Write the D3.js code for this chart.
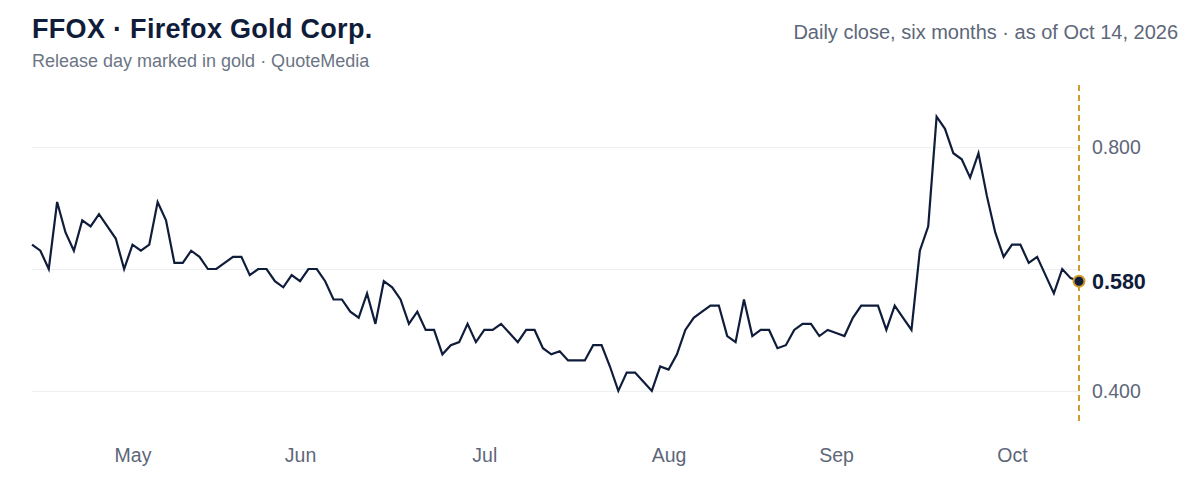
<!DOCTYPE html>
<html>
<head>
<meta charset="utf-8">
<script src="https://cdn.jsdelivr.net/npm/d3@7"></script>
<style>
  body { margin: 0; background: #fff; }
  svg { font-family: "Liberation Sans", Arial, Helvetica, sans-serif; }
</style>
</head>
<body>
<div id="chart"></div>
<script>
// trading window (TSX-V calendar) and daily closes
var firstDay = "2026-04-15"
var lastDay = "2026-10-14"
var holidays = ["2026-05-18", "2026-07-01", "2026-08-03", "2026-09-07", "2026-10-12"]

var closes = [
  0.64, 0.63, 0.60, 0.71, 0.66, 0.63, 0.68, 0.67, 0.69, 0.67,
  0.65, 0.60, 0.64, 0.63, 0.64, 0.71, 0.68, 0.61, 0.61, 0.63,
  0.62, 0.60, 0.60, 0.61, 0.62, 0.62, 0.59, 0.60, 0.60, 0.58,
  0.57, 0.59, 0.58, 0.60, 0.60, 0.58, 0.55, 0.55, 0.53, 0.52,
  0.56, 0.51, 0.58, 0.57, 0.55, 0.51, 0.53, 0.50, 0.50, 0.46,
  0.475, 0.48, 0.51, 0.48, 0.50, 0.50, 0.51, 0.495, 0.48, 0.50,
  0.50, 0.47, 0.46, 0.465, 0.45, 0.45, 0.45, 0.475, 0.475, 0.44,
  0.40, 0.43, 0.43, 0.415, 0.40, 0.44, 0.435, 0.46, 0.50, 0.52,
  0.53, 0.54, 0.54, 0.49, 0.48, 0.55, 0.49, 0.50, 0.50, 0.47,
  0.475, 0.50, 0.51, 0.51, 0.49, 0.50, 0.495, 0.49, 0.52, 0.54,
  0.54, 0.54, 0.50, 0.54, 0.52, 0.50, 0.63, 0.67, 0.85, 0.83,
  0.79, 0.78, 0.75, 0.79, 0.72, 0.66, 0.62, 0.64, 0.64, 0.61,
  0.62, 0.59, 0.56, 0.60, 0.585, 0.58
]

var yTicks = [0.4, 0.6, 0.8]

var width = 1200
var height = 480
var plotLeft = 32, plotRight = 1079, plotTop = 85, plotBottom = 425

var navy = "#0f1c3a"
var gold = "#d09b2f"
var grey = "#5d6779"

var parse = d3.timeParse("%Y-%m-%d")
var fmtDay = d3.timeFormat("%Y-%m-%d")

// weekdays that are not market holidays
var days = d3.timeDay.range(parse(firstDay), d3.timeDay.offset(parse(lastDay), 1))
  .filter(function(d) {
    return d.getDay() !== 0 && d.getDay() !== 6 && holidays.indexOf(fmtDay(d)) < 0
  })

var data = days.map(function(d, i) { return { date: d, i: i, close: closes[i] } })

// first trading day of each month gets a label
var monthStarts = []
data.forEach(function(d, i) {
  if (i > 0 && d.date.getMonth() !== data[i - 1].date.getMonth()) monthStarts.push(i)
})

var svg = d3.select("#chart")
  .append("svg")
    .attr("width", width)
    .attr("height", height)

var x = d3.scaleLinear()
  .domain([0, data.length - 1])
  .range([plotLeft, plotRight])

var y = d3.scaleLinear()
  .domain([0.344, 0.902])
  .range([plotBottom, plotTop])

var last = data[data.length - 1]

// gridlines + right axis labels
var yAxis = svg.append("g")
  .attr("transform", "translate(" + plotRight + ",0)")
  .call(d3.axisRight(y)
    .tickValues(yTicks)
    .tickSize(-(plotRight - plotLeft))
    .tickPadding(13)
    .tickFormat(function(d) {
      // hide a tick label that would collide with the last close label
      return Math.abs(y(d) - y(last.close)) < 20 ? "" : d3.format(".3f")(d)
    }))
yAxis.select(".domain").remove()
yAxis.selectAll(".tick line").attr("stroke", "#eceef3").attr("stroke-width", 1)
yAxis.selectAll(".tick text")
  .attr("fill", grey)
  .style("font-size", "19.5px")

// month axis
var xAxis = svg.append("g")
  .attr("transform", "translate(0," + (plotBottom + 17) + ")")
  .call(d3.axisBottom(x)
    .tickValues(monthStarts)
    .tickSize(0)
    .tickPadding(6)
    .tickFormat(function(i) { return d3.timeFormat("%b")(data[i].date) }))
xAxis.select(".domain").remove()
xAxis.selectAll(".tick text")
  .attr("fill", grey)
  .style("font-size", "19.5px")

// price line
var line = d3.line()
  .x(function(d) { return x(d.i) })
  .y(function(d) { return y(d.close) })

svg.append("path")
  .datum(data)
  .attr("d", line)
  .attr("fill", "none")
  .attr("stroke", navy)
  .attr("stroke-width", 2.2)

// release day marker
svg.append("line")
  .attr("x1", x(last.i)).attr("x2", x(last.i))
  .attr("y1", plotTop).attr("y2", plotBottom)
  .attr("stroke", gold)
  .attr("stroke-width", 2)
  .attr("stroke-dasharray", "6,4")

svg.append("circle")
  .attr("cx", x(last.i))
  .attr("cy", y(last.close))
  .attr("r", 5.5)
  .attr("fill", navy)
  .attr("stroke", gold)
  .attr("stroke-width", 2)

svg.append("text")
  .attr("x", x(last.i) + 13)
  .attr("y", y(last.close))
  .attr("dy", "0.35em")
  .attr("fill", navy)
  .style("font-size", "21.5px")
  .style("font-weight", "bold")
  .text(d3.format(".3f")(last.close))

// titles
svg.append("text")
  .attr("x", 32).attr("y", 38)
  .attr("fill", navy)
  .style("font-size", "27px")
  .style("font-weight", "bold")
  .style("letter-spacing", "0.3px")
  .text("FFOX · Firefox Gold Corp.")

svg.append("text")
  .attr("x", 32).attr("y", 67)
  .attr("fill", "#6b7585")
  .style("font-size", "18px")
  .text("Release day marked in gold · QuoteMedia")

svg.append("text")
  .attr("x", 1178).attr("y", 39)
  .attr("text-anchor", "end")
  .attr("fill", grey)
  .style("font-size", "20px")
  .text("Daily close, six months · as of " + d3.timeFormat("%b %-d, %Y")(last.date))
</script>
</body>
</html>
